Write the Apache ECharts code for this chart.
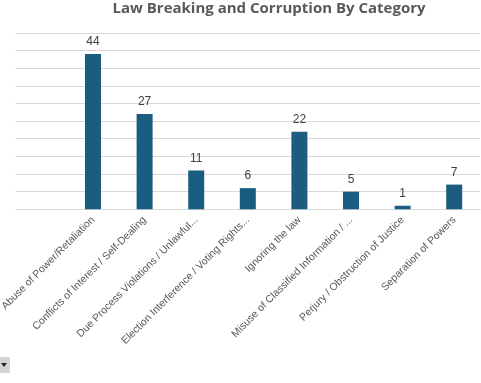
<!DOCTYPE html>
<html>
<head>
<meta charset="utf-8">
<script src="https://cdn.jsdelivr.net/npm/echarts@6/dist/echarts.min.js"></script>
<style>html,body{margin:0;padding:0;background:#fff;}#c{width:481px;height:383px;}</style>
</head>
<body>
<div id="c"></div>
<script>
var titleText = 'Law Breaking and Corruption By Category';
var categories = ['', 'Abuse of Power/Retaliation', 'Conflicts of Interest / Self-Dealing', 'Due Process Violations / Unlawful...', 'Election Interference / Voting Rights...', 'Ignoring the law', 'Misuse of Classified Information / ...', 'Perjury / Obstruction of Justice', 'Separation of Powers'];
var counts = [null, 44, 27, 11, 6, 22, 5, 1, 7];
var yMin = 0, yMax = 50, yInterval = 5;

var chart = echarts.init(document.getElementById('c'), null, {renderer: 'canvas'});
chart.setOption({
  animation: false,
  backgroundColor: '#ffffff',
  title: {
    text: titleText,
    left: 264, top: -4, textAlign: 'center',
    textStyle: {fontFamily: 'Open Sans', fontWeight: 'bold', fontSize: 15, color: '#595959'}
  },
  grid: {left: 15.6, right: 1, top: 32.8, bottom: 173.7, containLabel: false, outerBoundsMode: 'none'},
  xAxis: {
    type: 'category', data: categories,
    axisLine: {show: true, lineStyle: {color: '#d9d9d9', width: 1}},
    axisTick: {show: false},
    axisLabel: {interval: 0, rotate: 45, color: '#595959', fontFamily: 'Liberation Sans', fontSize: 10.5, margin: 9}
  },
  yAxis: {
    type: 'value', min: yMin, max: yMax, interval: yInterval,
    axisLabel: {show: false}, axisLine: {show: false}, axisTick: {show: false},
    splitLine: {lineStyle: {color: '#d9d9d9', width: 1}}
  },
  series: [{
    type: 'bar', data: counts, barWidth: 16,
    itemStyle: {color: '#1a5d80'},
    label: {show: true, position: 'top', distance: 6, color: '#404040', fontFamily: 'Liberation Sans', fontSize: 12}
  }],
  graphic: [
    {type: 'rect', shape: {x: 0, y: 357, width: 10, height: 16}, style: {fill: '#d4d4d4'}},
    {type: 'polygon', shape: {points: [[1, 363], [7, 363], [4, 367]]}, style: {fill: '#222'}}
  ]
});
</script>
</body>
</html>
